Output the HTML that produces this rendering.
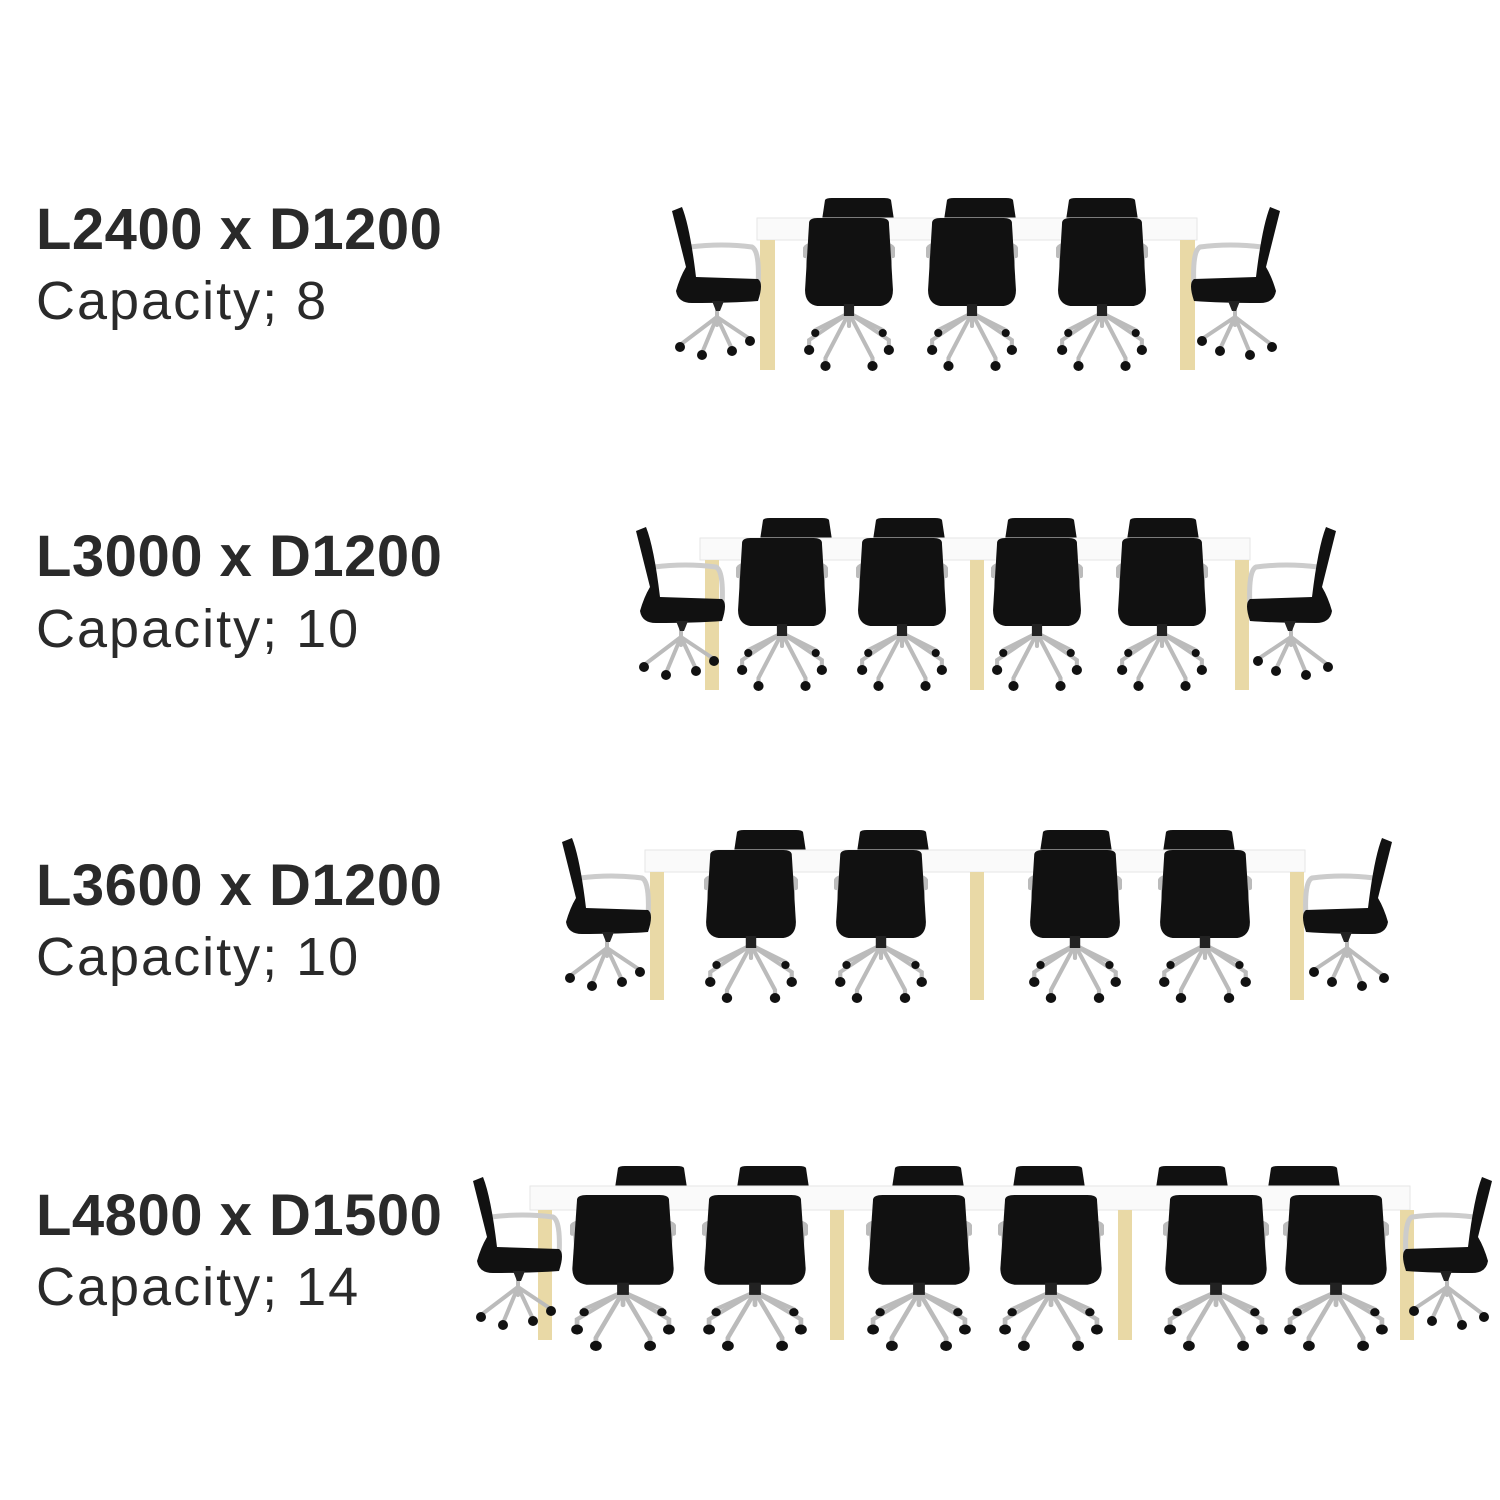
<!DOCTYPE html>
<html><head><meta charset="utf-8"><style>
html,body{margin:0;padding:0;background:#fff;width:1500px;height:1500px;overflow:hidden}
.t{position:absolute;left:36px;font-family:"Liberation Sans",sans-serif;color:#2a2a2a;white-space:nowrap}
.b{font-weight:bold;font-size:58px;letter-spacing:0.5px}
.r{font-size:54px;letter-spacing:2px}
svg{position:absolute;left:0;top:0}
</style></head><body>
<div class="t b" style="top:196px">L2400 x D1200</div>
<div class="t r" style="top:270px">Capacity; 8</div>
<div class="t b" style="top:523px">L3000 x D1200</div>
<div class="t r" style="top:598px">Capacity; 10</div>
<div class="t b" style="top:852px">L3600 x D1200</div>
<div class="t r" style="top:926px">Capacity; 10</div>
<div class="t b" style="top:1182px">L4800 x D1500</div>
<div class="t r" style="top:1256px">Capacity; 14</div>
<svg width="1500" height="1500" viewBox="0 0 1500 1500">
<defs>
<symbol id="bk" viewBox="0 0 72 22" preserveAspectRatio="none">
<path d="M3,2 Q4,0 10,0 L62,0 Q68,0 69,2 L72,22 L0,22 Z" fill="#111"/>
</symbol>
<symbol id="fr" viewBox="0 0 90 155" preserveAspectRatio="none">
<g stroke="#bbb" stroke-width="4" fill="none" stroke-linecap="round">
<path d="M45,95 L6,122 L6,130"/><path d="M45,95 L84,122 L84,130"/>
<path d="M45,95 L22,140 L22,146"/><path d="M45,95 L68,140 L68,146"/>
<path d="M45,95 L45,108"/><path d="M45,95 L12,112"/><path d="M45,95 L78,112"/>
<path d="M2,38 Q0,30 4,28 L6,60"/><path d="M88,38 Q90,30 86,28 L84,60"/>
</g>
<path d="M6,4 Q7,0 14,0 L76,0 Q83,0 84,4 L88,72 Q88,86 76,88 L14,88 Q2,86 2,72 Z" fill="#111"/>
<rect x="40" y="86" width="10" height="12" fill="#222"/>
<g fill="#111"><circle cx="6" cy="132" r="5"/><circle cx="84" cy="132" r="5"/><circle cx="22" cy="148" r="5"/><circle cx="68" cy="148" r="5"/><circle cx="12" cy="115" r="4"/><circle cx="78" cy="115" r="4"/></g>
</symbol>
<symbol id="sd" viewBox="0 0 90 155" preserveAspectRatio="none">
<g stroke="#bbb" stroke-width="4" fill="none" stroke-linecap="round">
<path d="M45,110 L8,138"/><path d="M45,110 L78,132"/><path d="M45,110 L30,146"/><path d="M45,110 L60,142"/><path d="M45,95 L45,118"/>
</g>
<path d="M18,40 Q50,36 80,40 Q88,44 86,80" stroke="#ccc" stroke-width="5" fill="none"/>
<path d="M0,4 L10,0 Q18,20 24,70 L86,72 Q92,76 86,94 Q60,96 20,96 Q6,96 4,84 Q8,70 14,60 Z" fill="#111"/>
<path d="M40,94 L52,94 L48,104 L44,104 Z" fill="#222"/>
<g fill="#111"><circle cx="8" cy="140" r="5"/><circle cx="78" cy="134" r="5"/><circle cx="30" cy="148" r="5"/><circle cx="60" cy="144" r="5"/></g>
</symbol>
</defs>

<use href="#bk" x="822" y="198" width="72" height="22"/><use href="#bk" x="944" y="198" width="72" height="22"/><use href="#bk" x="1066" y="198" width="72" height="22"/>
<rect x="757" y="218" width="440" height="22" fill="#fafafa" stroke="#e6e6e6"/>
<rect x="760" y="240" width="15" height="130" fill="#e9d9a6"/><rect x="1180" y="240" width="15" height="130" fill="#e9d9a6"/>
<use href="#sd" x="672" y="207" width="90" height="155"/>
<use href="#sd" transform="translate(1280,207) scale(-1,1)" width="90" height="155"/>
<use href="#fr" x="803" y="218" width="92" height="155"/><use href="#fr" x="926" y="218" width="92" height="155"/><use href="#fr" x="1056" y="218" width="92" height="155"/>

<use href="#bk" x="760" y="518" width="72" height="22"/><use href="#bk" x="873" y="518" width="72" height="22"/><use href="#bk" x="1005" y="518" width="72" height="22"/><use href="#bk" x="1127" y="518" width="72" height="22"/>
<rect x="700" y="538" width="550" height="22" fill="#fafafa" stroke="#e6e6e6"/>
<rect x="705" y="560" width="14" height="130" fill="#e9d9a6"/><rect x="970" y="560" width="14" height="130" fill="#e9d9a6"/><rect x="1235" y="560" width="14" height="130" fill="#e9d9a6"/>
<use href="#sd" x="636" y="527" width="90" height="155"/>
<use href="#sd" transform="translate(1336,527) scale(-1,1)" width="90" height="155"/>
<use href="#fr" x="736" y="538" width="92" height="155"/><use href="#fr" x="856" y="538" width="92" height="155"/><use href="#fr" x="991" y="538" width="92" height="155"/><use href="#fr" x="1116" y="538" width="92" height="155"/>

<use href="#bk" x="734" y="830" width="72" height="22"/><use href="#bk" x="857" y="830" width="72" height="22"/><use href="#bk" x="1040" y="830" width="72" height="22"/><use href="#bk" x="1163" y="830" width="72" height="22"/>
<rect x="645" y="850" width="660" height="22" fill="#fafafa" stroke="#e6e6e6"/>
<rect x="650" y="872" width="14" height="128" fill="#e9d9a6"/><rect x="970" y="872" width="14" height="128" fill="#e9d9a6"/><rect x="1290" y="872" width="14" height="128" fill="#e9d9a6"/>
<use href="#sd" x="562" y="838" width="90" height="155"/>
<use href="#sd" transform="translate(1392,838) scale(-1,1)" width="90" height="155"/>
<use href="#fr" x="704" y="850" width="94" height="155"/><use href="#fr" x="834" y="850" width="94" height="155"/><use href="#fr" x="1028" y="850" width="94" height="155"/><use href="#fr" x="1158" y="850" width="94" height="155"/>

<use href="#bk" x="615" y="1166" width="72" height="22"/><use href="#bk" x="737" y="1166" width="72" height="22"/><use href="#bk" x="892" y="1166" width="72" height="22"/><use href="#bk" x="1013" y="1166" width="72" height="22"/><use href="#bk" x="1156" y="1166" width="72" height="22"/><use href="#bk" x="1268" y="1166" width="72" height="22"/>
<rect x="530" y="1186" width="880" height="24" fill="#fafafa" stroke="#e6e6e6"/>
<rect x="538" y="1210" width="14" height="130" fill="#e9d9a6"/><rect x="830" y="1210" width="14" height="130" fill="#e9d9a6"/><rect x="1118" y="1210" width="14" height="130" fill="#e9d9a6"/><rect x="1400" y="1210" width="14" height="130" fill="#e9d9a6"/>
<use href="#sd" x="473" y="1177" width="90" height="155"/>
<use href="#sd" transform="translate(1492,1177) scale(-1,1)" width="90" height="155"/>
<use href="#fr" x="570" y="1195" width="106" height="158"/><use href="#fr" x="702" y="1195" width="106" height="158"/><use href="#fr" x="866" y="1195" width="106" height="158"/><use href="#fr" x="998" y="1195" width="106" height="158"/><use href="#fr" x="1163" y="1195" width="106" height="158"/><use href="#fr" x="1283" y="1195" width="106" height="158"/>
</svg>
</body></html>
